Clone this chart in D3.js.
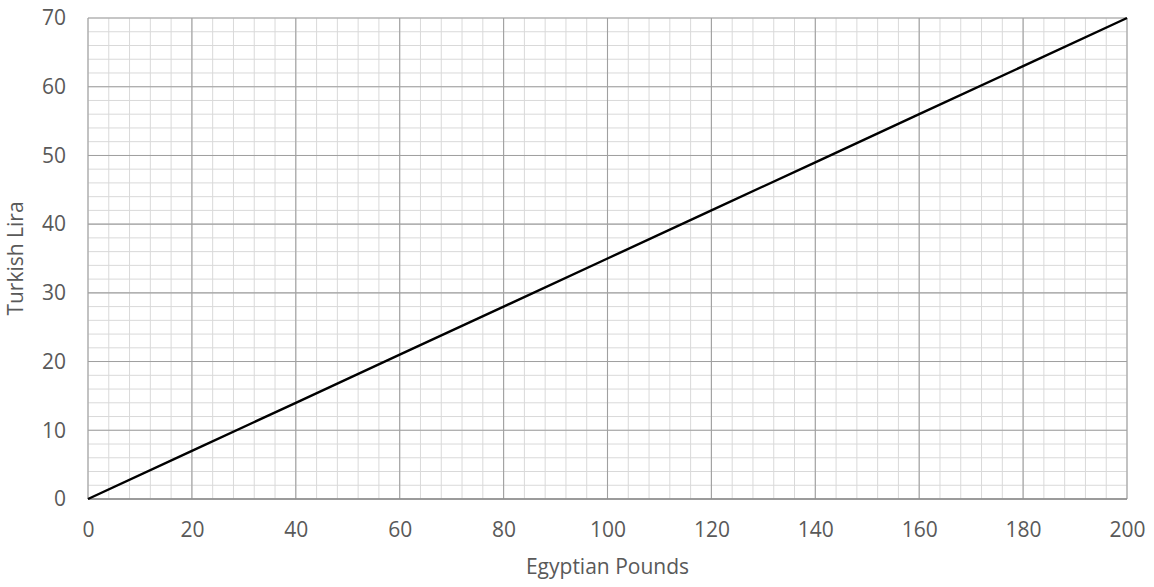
<!DOCTYPE html>
<html><head><meta charset="utf-8">
<script src="https://cdn.jsdelivr.net/npm/d3@7"></script>
<style>body{margin:0;background:#fff}svg{display:block}text{font-family:"Open Sans",sans-serif}</style>
</head><body>
<svg id="c" width="1154" height="587"></svg>
<script>
const egp = [0, 20, 40, 60, 80, 100, 120, 140, 160, 180, 200];
const tryVals = [0, 7, 14, 21, 28, 35, 42, 49, 56, 63, 70];
const xTicks = [0, 20, 40, 60, 80, 100, 120, 140, 160, 180, 200];
const yTicks = [0, 10, 20, 30, 40, 50, 60, 70];
const xTitle = "Egyptian Pounds", yTitle = "Turkish Lira";

const svg = d3.select("#c");
const L = 88, R = 1127, T = 18, B = 499;
const x = d3.scaleLinear().domain([0, 200]).range([L, R]);
const y = d3.scaleLinear().domain([0, 70]).range([B, T]);

const g = svg.append("g");
g.selectAll(".mx").data(d3.range(0, 201, 4)).join("line")
  .attr("x1", d => x(d)).attr("x2", d => x(d)).attr("y1", T).attr("y2", B)
  .attr("stroke", "#d9d9d9").attr("stroke-width", 1);
g.selectAll(".my").data(d3.range(0, 71, 2)).join("line")
  .attr("y1", d => y(d)).attr("y2", d => y(d)).attr("x1", L).attr("x2", R)
  .attr("stroke", "#d9d9d9").attr("stroke-width", 1);
g.selectAll(".Mx").data(xTicks).join("line")
  .attr("x1", d => x(d)).attr("x2", d => x(d)).attr("y1", T).attr("y2", B)
  .attr("stroke", "#a0a0a0").attr("stroke-width", 1.1);
g.selectAll(".My").data(yTicks).join("line")
  .attr("y1", d => y(d)).attr("y2", d => y(d)).attr("x1", L).attr("x2", R)
  .attr("stroke", "#a0a0a0").attr("stroke-width", 1.1);
g.append("line").attr("x1", L).attr("x2", R).attr("y1", B).attr("y2", B)
  .attr("stroke", "#8c8c8c").attr("stroke-width", 1.3);

const xa = svg.append("g").attr("transform", `translate(0,${B})`)
  .call(d3.axisBottom(x).tickValues(xTicks).tickSize(0).tickPadding(23));
const ya = svg.append("g").attr("transform", `translate(${L},0)`)
  .call(d3.axisLeft(y).tickValues(yTicks).tickSize(0).tickPadding(22));
[xa, ya].forEach(a => {
  a.select(".domain").remove();
  a.selectAll("text").attr("fill", "#595959").style("font-size", "21px")
    .style("font-family", "'Open Sans', sans-serif");
});

svg.append("path").datum(egp.map((e, i) => [e, tryVals[i]]))
  .attr("d", d3.line().x(d => x(d[0])).y(d => y(d[1])))
  .attr("fill", "none").attr("stroke", "#000").attr("stroke-width", 2.4);

svg.append("text").attr("x", (L + R) / 2).attr("y", 574).attr("text-anchor", "middle")
  .attr("fill", "#595959").style("font-size", "21px").text(xTitle);
svg.append("text").attr("transform", `translate(23,${(T + B) / 2}) rotate(-90)`)
  .attr("text-anchor", "middle").attr("fill", "#595959").style("font-size", "21px").text(yTitle);
</script>
</body></html>
